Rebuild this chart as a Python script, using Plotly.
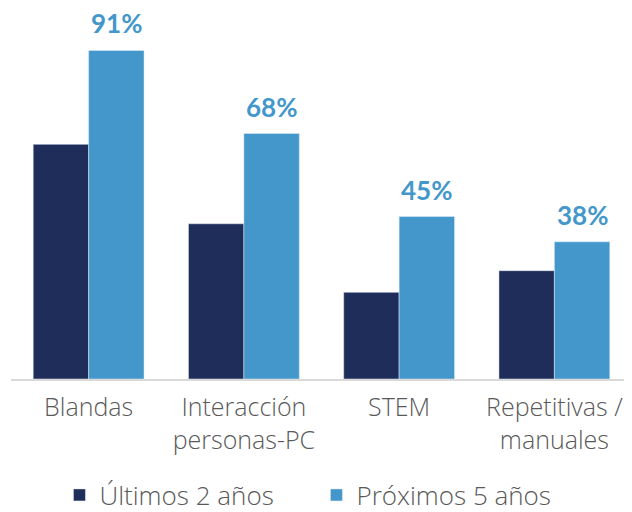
import plotly.graph_objects as go

categories = ["Blandas", "Interacción<br>personas-PC", "STEM", "Repetitivas /<br>manuales"]
ultimos_2 = [65, 43, 24, 30]
proximos_5 = [91, 68, 45, 38]
series_names = ["Últimos 2 años", "Próximos 5 años"]
label_texts = ["91%", "68%", "45%", "38%"]

navy = "#1f2d5a"
blue = "#4397cb"
gray_text = "#595959"
FONT = "Open Sans, Lato, sans-serif"
BOLD_FONT = "Lato, Open Sans, sans-serif"

# page body has an 8px default margin, so the figure is 8px smaller
W, H = 624, 504

bargap = 0.286
fig = go.Figure()
fig.add_trace(go.Bar(x=categories, y=ultimos_2, name=series_names[0], marker_color=navy))
fig.add_trace(go.Bar(x=categories, y=proximos_5, name=series_names[1], marker_color=blue))

offset = (1 - bargap) / 4
for i, (v, t) in enumerate(zip(proximos_5, label_texts)):
    fig.add_annotation(x=i + offset, y=v, xref="x", yref="y", text="<b>" + t + "</b>",
                       showarrow=False, yanchor="bottom", yshift=9,
                       font=dict(family=BOLD_FONT, size=26, color=blue))

fig.update_layout(
    width=W, height=H,
    margin=dict(l=3, r=0, t=10, b=133, autoexpand=False),
    barmode="group", bargap=bargap, bargroupgap=0,
    plot_bgcolor="white", paper_bgcolor="white",
    showlegend=True,
    legend=dict(orientation="h", x=0.078, xanchor="left", yref="container", y=17 / H,
                yanchor="middle", font=dict(family=FONT, size=26, color=gray_text, weight=300),
                entrywidth=212, entrywidthmode="pixels",
                itemclick=False),
    xaxis=dict(showline=True, linecolor="#d9d9d9", linewidth=2, showgrid=False,
               tickfont=dict(family=FONT, size=25, color=gray_text, weight=300), ticks="",
               ticklabelstandoff=5, automargin=False),
    yaxis=dict(range=[0, 100], visible=False, showgrid=False, zeroline=False, automargin=False),
)
fig.write_html("out.html")
